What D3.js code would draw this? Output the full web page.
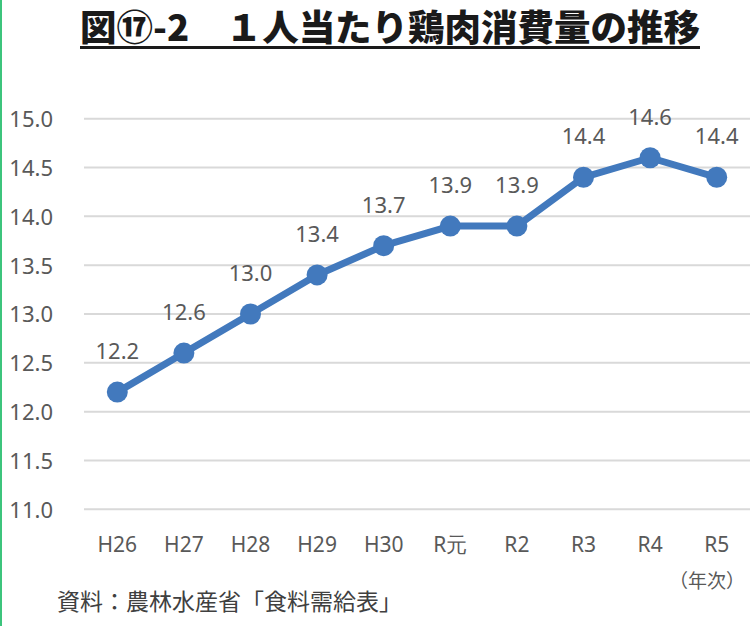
<!DOCTYPE html>
<html><head><meta charset="utf-8">
<script src="https://cdn.jsdelivr.net/npm/d3@7"></script>
<style>html,body{margin:0;padding:0;background:#fff;}svg{display:block;}</style>
</head><body>
<svg id="c" width="754" height="626"></svg>
<script>
const categories = ["H26","H27","H28","H29","H30","R元","R2","R3","R4","R5"];
const values = [12.2,12.6,13.0,13.4,13.7,13.9,13.9,14.4,14.6,14.4];
const yTicks = [11.0,11.5,12.0,12.5,13.0,13.5,14.0,14.5,15.0];
const titleText = "図⑰-2　１人当たり鶏肉消費量の推移";
const sourceText = "資料：農林水産省「食料需給表」";
const unitText = "（年次）";

const svg = d3.select("#c");
const W = 754, H = 626;
const latin = "'Noto Sans', 'Open Sans', sans-serif";
const cjk = "'Noto Sans CJK JP', sans-serif";
const textCol = "#595959";

// left green border
svg.append("line").attr("x1",1).attr("x2",1).attr("y1",0).attr("y2",H)
  .attr("stroke","#3cc47c").attr("stroke-width",2);

const x = d3.scaleBand().domain(categories).range([84,750]);
const y = d3.scaleLinear().domain([11,15]).range([509.3,118.7]);

// gridlines
svg.append("g").selectAll("line").data(yTicks).join("line")
  .attr("x1",84).attr("x2",750)
  .attr("y1",d=>y(d)).attr("y2",d=>y(d))
  .attr("stroke","#d9d9d9").attr("stroke-width",2);

// y axis labels
const yAxis = d3.axisLeft(y).tickValues(yTicks).tickFormat(d3.format(".1f")).tickSize(0).tickPadding(0);
const gy = svg.append("g").attr("transform","translate(53,0)").call(yAxis);
gy.select(".domain").remove();
gy.selectAll("text").attr("font-family",latin).attr("font-size",22).attr("fill",textCol).attr("dy","0.36em");

// x axis labels
const xAxis = d3.axisBottom(x).tickSize(0).tickPadding(0);
const gx = svg.append("g").attr("transform","translate(0,552)").call(xAxis);
gx.select(".domain").remove();
gx.selectAll("text").attr("font-family",latin).attr("font-size",21).attr("fill",textCol).attr("dy",0).attr("y",0);

// line
const cx = d => x(d) + x.bandwidth()/2;
const line = d3.line().x((d,i)=>cx(categories[i])).y(d=>y(d));
svg.append("path").datum(values).attr("d",line)
  .attr("fill","none").attr("stroke","#4279bd").attr("stroke-width",7).attr("stroke-linejoin","round");

svg.append("g").selectAll("circle").data(values).join("circle")
  .attr("cx",(d,i)=>cx(categories[i])).attr("cy",d=>y(d)).attr("r",10.5)
  .attr("fill","#4279bd");

// data labels
svg.append("g").selectAll("text").data(values).join("text")
  .attr("x",(d,i)=>cx(categories[i])).attr("y",d=>y(d)-33)
  .attr("text-anchor","middle").attr("font-family",latin).attr("font-size",22).attr("fill",textCol)
  .text(d=>d3.format(".1f")(d));

// title
svg.append("text").attr("x",80).attr("y",41)
  .attr("font-family",cjk).attr("font-weight",900).attr("font-size",36).attr("fill","#1a1a1a")
  .attr("textLength",620).attr("lengthAdjust","spacingAndGlyphs")
  .text(titleText);
svg.append("line").attr("x1",80).attr("x2",700).attr("y1",47.5).attr("y2",47.5)
  .attr("stroke","#1a1a1a").attr("stroke-width",3);

// unit
svg.append("text").attr("x",745).attr("y",588).attr("text-anchor","end")
  .attr("font-family",cjk).attr("font-size",19).attr("fill",textCol).text(unitText);

// source
svg.append("text").attr("x",57).attr("y",610)
  .attr("font-family",cjk).attr("font-size",23).attr("fill","#404040").text(sourceText);
</script>
</body></html>
